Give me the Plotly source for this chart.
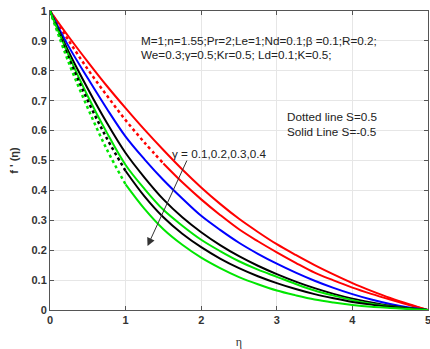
import plotly.graph_objects as go

eta = [0, 0.25, 0.5, 0.75, 1.0, 1.25, 1.5, 1.75, 2.0, 2.25, 2.5,
       2.75, 3.0, 3.25, 3.5, 3.75, 4.0, 4.25, 4.5, 4.75, 5.0]

# S = -0.5 (solid lines)
red_solid   = [1, 0.913, 0.83, 0.75, 0.675, 0.603, 0.535, 0.47, 0.41, 0.355, 0.305,
               0.261, 0.22, 0.184, 0.15, 0.119, 0.09, 0.064, 0.04, 0.019, 0]
blue_solid  = [1, 0.88, 0.775, 0.674, 0.58, 0.504, 0.435, 0.373, 0.315, 0.268, 0.225,
               0.188, 0.155, 0.125, 0.098, 0.074, 0.053, 0.035, 0.02, 0.008, 0]
black_solid = [1, 0.862, 0.74, 0.627, 0.525, 0.443, 0.37, 0.31, 0.26, 0.217, 0.18,
               0.148, 0.12, 0.095, 0.073, 0.054, 0.038, 0.025, 0.014, 0.006, 0]
green_solid = [1, 0.85, 0.715, 0.594, 0.485, 0.405, 0.335, 0.282, 0.235, 0.197, 0.163,
               0.135, 0.111, 0.087, 0.065, 0.048, 0.033, 0.021, 0.012, 0.005, 0]

# S = 0.5 (dotted lines)
red_dot   = [1, 0.9, 0.805, 0.718, 0.635, 0.56, 0.49, 0.427, 0.37, 0.318, 0.27,
             0.23, 0.193, 0.158, 0.125, 0.099, 0.075, 0.054, 0.035, 0.017, 0]
black_dot = [1, 0.842, 0.70, 0.575, 0.465, 0.38, 0.31, 0.255, 0.21, 0.172, 0.14,
             0.113, 0.09, 0.07, 0.053, 0.039, 0.027, 0.018, 0.011, 0.005, 0]
green_dot = [1, 0.826, 0.675, 0.538, 0.42, 0.338, 0.27, 0.218, 0.175, 0.14, 0.11,
             0.086, 0.065, 0.049, 0.035, 0.025, 0.017, 0.011, 0.007, 0.003, 0]

x_ticks = [0, 1, 2, 3, 4, 5]
y_ticks = [0, 0.1, 0.2, 0.3, 0.4, 0.5, 0.6, 0.7, 0.8, 0.9, 1]

RED, BLUE, BLACK, GREEN = "#ff0000", "#0000ff", "#000000", "#00e600"

fig = go.Figure()

def solid(y, color):
    fig.add_trace(go.Scatter(x=eta, y=y, mode="lines", line=dict(color=color, width=2, shape="spline"),
                             showlegend=False, hoverinfo="skip"))

def dotted(y, color, k):
    fig.add_trace(go.Scatter(x=eta[:k + 1], y=y[:k + 1], mode="lines",
                             line=dict(color=color, width=2.5, dash="dot", shape="spline"),
                             showlegend=False, hoverinfo="skip"))
    fig.add_trace(go.Scatter(x=eta[k:], y=y[k:], mode="lines",
                             line=dict(color=color, width=2, shape="spline"),
                             showlegend=False, hoverinfo="skip"))

solid(red_solid, RED)
dotted(red_dot, RED, 6)
solid(blue_solid, BLUE)
solid(black_solid, BLACK)
solid(green_solid, GREEN)
dotted(black_dot, BLACK, 4)
dotted(green_dot, GREEN, 4)

txt = dict(family="Liberation Sans, Arial, sans-serif", size=11.7, color="#222222")

def label(x, y, s):
    fig.add_annotation(x=x, y=y, xref="x", yref="y", xanchor="left", yanchor="middle",
                       text=s, showarrow=False, font=txt, borderpad=0)

label(1.19, 0.902, "M=1;n=1.55;Pr=2;Le=1;Nd=0.1;β =0.1;R=0.2;")
label(1.19, 0.854, "We=0.3;γ=0.5;Kr=0.5; Ld=0.1;K=0.5;")
label(3.12, 0.646, "Dotted line S=0.5")
label(3.12, 0.596, "Solid Line S=-0.5")
label(1.6, 0.525, "γ = 0.1,0.2,0.3,0.4")

fig.add_annotation(x=1.29, y=0.214, ax=1.82, ay=0.505, xref="x", yref="y", axref="x", ayref="y",
                   text="", showarrow=True, arrowhead=2, arrowsize=1.6, arrowwidth=1, arrowcolor="#333333")

axis_font = dict(family="Liberation Sans, Arial, sans-serif", size=11, color="#333333")
fig.update_xaxes(range=[0, 5], tickvals=x_ticks, ticktext=["<b>%g</b>" % v for v in x_ticks],
                 showgrid=True, gridcolor="#e6e6e6", gridwidth=1, zeroline=False,
                 showline=True, linecolor="#555555", linewidth=1, mirror="ticks",
                 ticks="inside", ticklen=4, tickcolor="#555555", tickfont=axis_font, automargin=False,
                 ticklabeloverflow="allow",
                 title=dict(text="η", font=dict(family="Liberation Serif, serif", size=12, color="#333333"), standoff=14))
fig.update_yaxes(range=[0, 1], tickvals=y_ticks, ticktext=["<b>%g</b>" % v for v in y_ticks],
                 showgrid=True, gridcolor="#e6e6e6", gridwidth=1, zeroline=False,
                 showline=True, linecolor="#555555", linewidth=1, mirror="ticks",
                 ticks="inside", ticklen=4, tickcolor="#555555", tickfont=axis_font, automargin=False,
                 ticklabeloverflow="allow",
                 title=dict(text="<b>f ' (η)</b>", font=dict(family="Liberation Sans, Arial, sans-serif", size=11, color="#333333"), standoff=10))

fig.update_layout(width=430, height=349, margin=dict(l=50, r=2, t=11, b=39),
                  plot_bgcolor="white", paper_bgcolor="white", showlegend=False)

fig.write_html("out.html", config={"displayModeBar": False},
               post_script="document.body.style.margin='0';document.body.style.overflow='hidden';")
